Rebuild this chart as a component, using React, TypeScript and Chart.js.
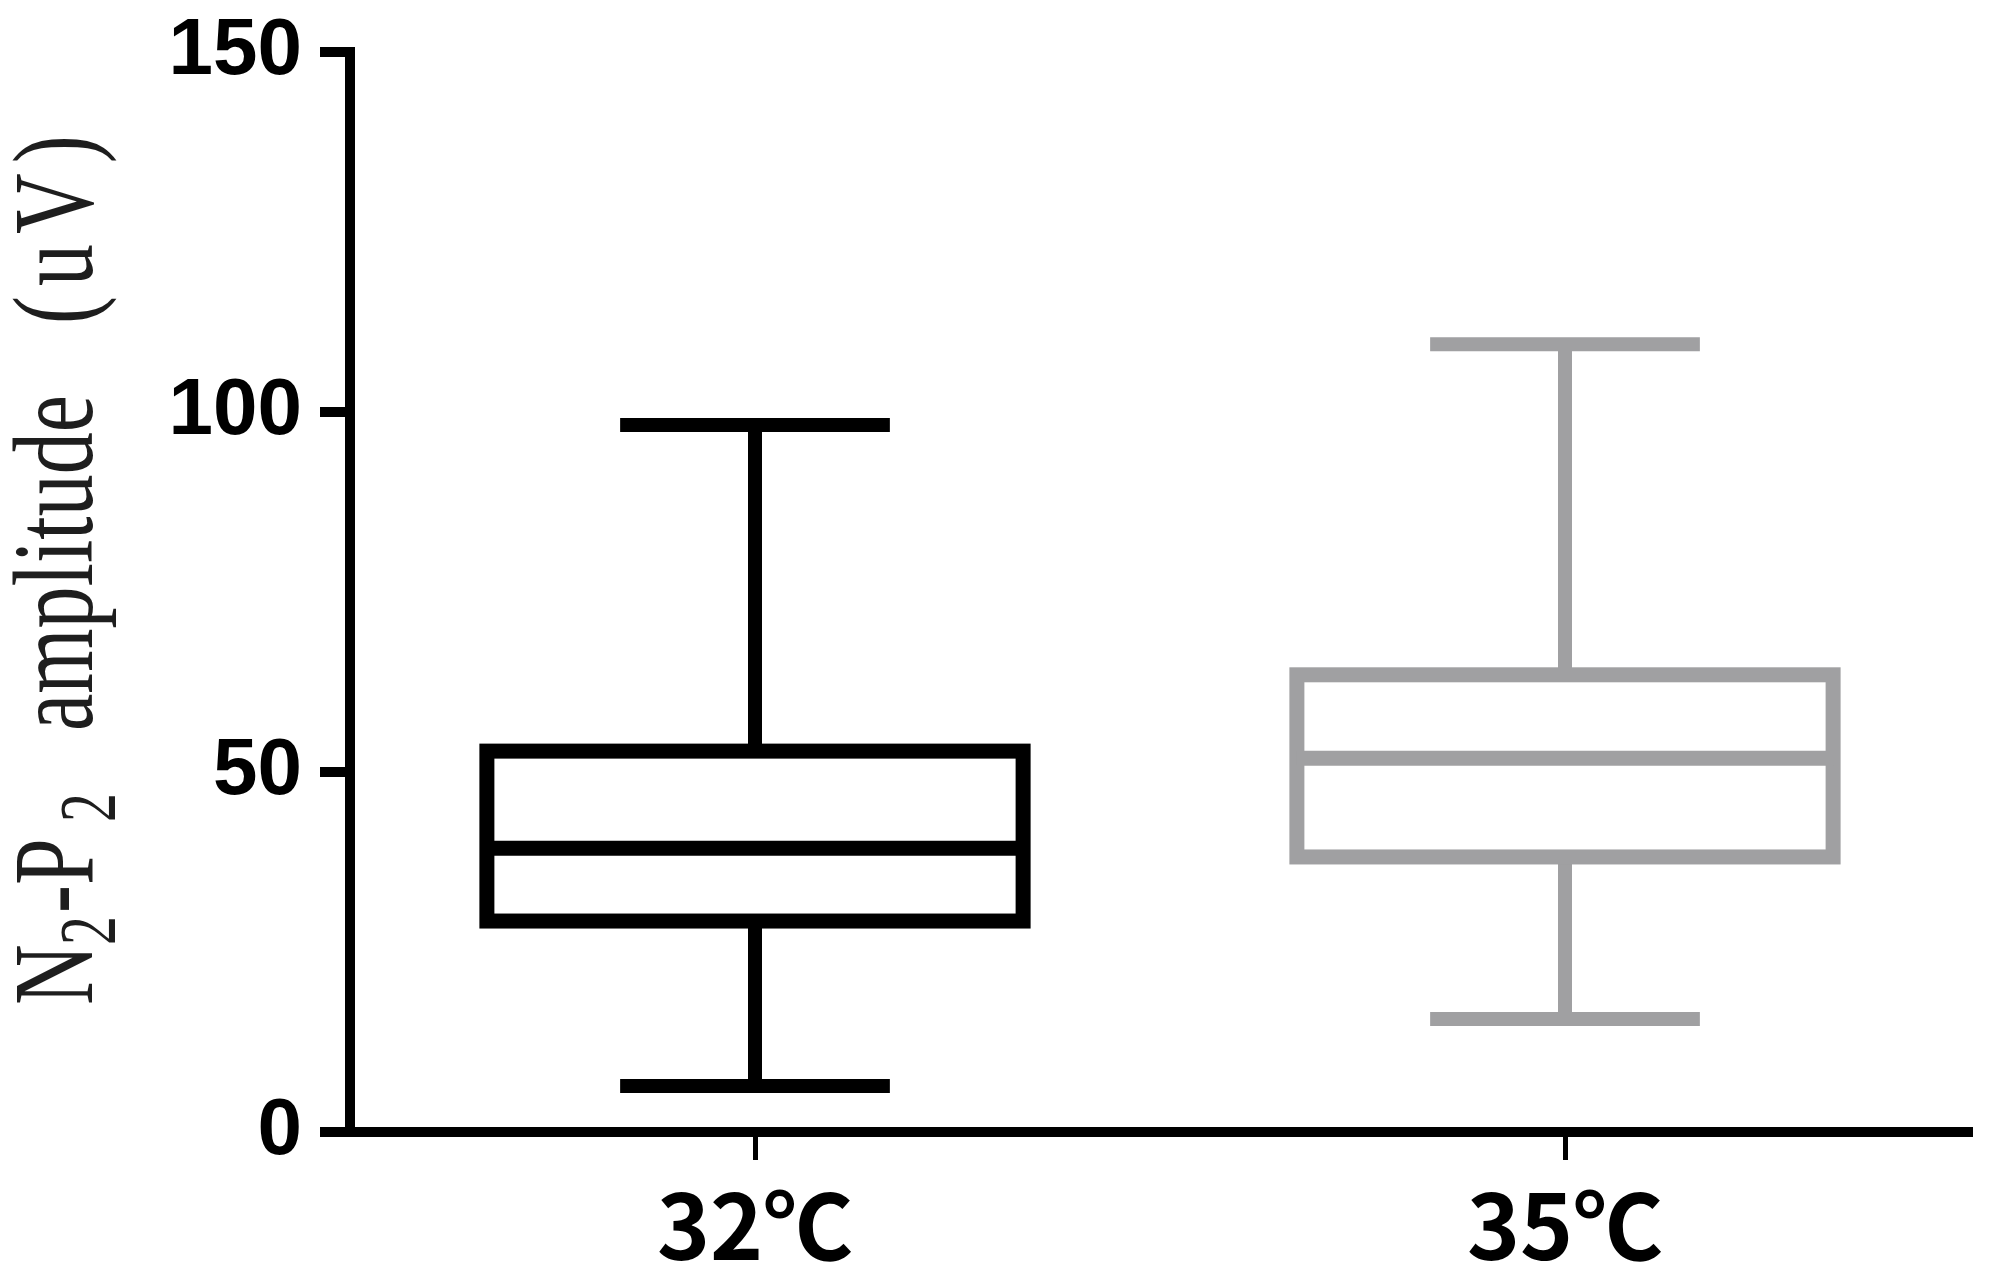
import React, { useEffect, useRef } from "react";
import { Chart, registerables } from "chart.js";

Chart.register(...registerables);

// ---- data ----
const categories = ["32℃", "35℃"];
const whiskerMin = [6.4, 15.7];
const q1 = [29.3, 38.2];
const median = [39.4, 51.9];
const q3 = [52.9, 63.5];
const whiskerMax = [98.2, 109.4];
const boxColors = ["#000000", "#a0a0a2"];
const yMin = 0;
const yMax = 150;
const yStep = 50;

const boxPlugin = {
  id: "boxWhisker",
  afterDatasetsDraw(chart: any) {
    const { ctx } = chart;
    const x = chart.scales.x;
    const y = chart.scales.y;
    const step =
      categories.length > 1 ? x.getPixelForValue(1) - x.getPixelForValue(0) : x.width;
    const boxW = step * 0.662;
    const capW = step * 0.333;
    ctx.save();
    categories.forEach((_, i) => {
      const cx = x.getPixelForValue(i);
      const pMin = y.getPixelForValue(whiskerMin[i]);
      const pQ1 = y.getPixelForValue(q1[i]);
      const pMed = y.getPixelForValue(median[i]);
      const pQ3 = y.getPixelForValue(q3[i]);
      const pMax = y.getPixelForValue(whiskerMax[i]);
      ctx.strokeStyle = boxColors[i];
      ctx.lineWidth = 14;
      ctx.lineCap = "butt";
      ctx.lineJoin = "miter";
      // whiskers
      ctx.beginPath();
      ctx.moveTo(cx, pQ3);
      ctx.lineTo(cx, pMax);
      ctx.moveTo(cx, pQ1);
      ctx.lineTo(cx, pMin);
      ctx.stroke();
      // caps
      ctx.beginPath();
      ctx.moveTo(cx - capW / 2, pMax);
      ctx.lineTo(cx + capW / 2, pMax);
      ctx.moveTo(cx - capW / 2, pMin);
      ctx.lineTo(cx + capW / 2, pMin);
      ctx.stroke();
      // box
      ctx.fillStyle = "#ffffff";
      ctx.fillRect(cx - boxW / 2, pQ3, boxW, pQ1 - pQ3);
      ctx.lineWidth = 15;
      ctx.strokeRect(cx - boxW / 2, pQ3, boxW, pQ1 - pQ3);
      // median
      ctx.beginPath();
      ctx.moveTo(cx - boxW / 2, pMed);
      ctx.lineTo(cx + boxW / 2, pMed);
      ctx.stroke();
    });
    ctx.restore();
  },
};

const titlePlugin = {
  id: "yTitle",
  afterDraw(chart: any) {
    const { ctx } = chart;
    ctx.save();
    ctx.translate(92, 1005);
    ctx.rotate(-Math.PI / 2);
    ctx.scale(1, 1.37);
    ctx.fillStyle = "#1e1e1e";
    ctx.textAlign = "left";
    ctx.textBaseline = "alphabetic";
    const big = "84px 'Liberation Serif', 'Times New Roman', serif";
    const small = "58px 'Liberation Serif', 'Times New Roman', serif";
    ctx.font = big;
    ctx.fillText("N", 0, 0);
    ctx.font = small;
    ctx.fillText("2", 60, 17);
    ctx.font = big;
    ctx.fillText("-P", 92, 0);
    ctx.font = small;
    ctx.fillText("2", 183, 17);
    ctx.font = big;
    ctx.fillText("amplitude", 274, 0);
    (ctx as any).letterSpacing = "10px";
    ctx.fillText("(uV)", 681, 0);
    ctx.restore();
  },
};

export default function App() {
  const ref = useRef<HTMLCanvasElement | null>(null);
  useEffect(() => {
    if (!ref.current) return;
    const chart = new Chart(ref.current, {
      type: "bar",
      data: {
        labels: categories,
        datasets: [
          {
            label: "range",
            data: categories.map((_, i) => [whiskerMin[i], whiskerMax[i]]) as any,
            backgroundColor: "rgba(0,0,0,0)",
            borderWidth: 0,
          },
        ],
      },
      options: {
        animation: false,
        responsive: true,
        maintainAspectRatio: false,
        events: [],
        layout: { padding: { left: 0, top: 52, right: 25, bottom: 0 } },
        plugins: {
          legend: { display: false },
          tooltip: { enabled: false },
          title: { display: false },
        },
        scales: {
          x: {
            type: "category",
            offset: true,
            afterFit: (s: any) => {
              s.height = 148;
              s.paddingLeft = 0;
              s.paddingRight = 0;
            },
            border: { display: true, color: "#000", width: 10 },
            grid: {
              display: true,
              offset: false,
              drawOnChartArea: false,
              drawTicks: true,
              tickLength: 28,
              tickWidth: 5,
              tickColor: "#000",
              color: "#000",
              lineWidth: 5,
            },
            ticks: {
              color: "#000",
              padding: 12,
              maxRotation: 0,
              font: { family: "'Noto Sans CJK SC', 'Noto Sans', sans-serif", size: 90, weight: "bold" },
            },
          },
          y: {
            min: yMin,
            max: yMax,
            afterFit: (s: any) => {
              s.width = 350;
              s.paddingTop = 0;
              s.paddingBottom = 0;
            },
            border: { display: true, color: "#000", width: 10 },
            grid: {
              display: true,
              drawOnChartArea: false,
              drawTicks: true,
              tickLength: 30,
              tickWidth: 10,
              tickColor: "#000",
              color: "#000",
              lineWidth: 10,
            },
            ticks: {
              stepSize: yStep,
              color: "#000",
              padding: 18,
              font: { family: "'Liberation Sans', Arial, sans-serif", size: 80, weight: "bold" },
            },
            title: { display: false },
          },
        },
      },
      plugins: [boxPlugin, titlePlugin],
    });
    return () => chart.destroy();
  }, []);
  return (
    <div
      style={{
        position: "fixed",
        left: 0,
        top: 0,
        width: 1995,
        height: 1280,
        background: "#ffffff",
      }}
    >
      <canvas ref={ref} />
    </div>
  );
}
